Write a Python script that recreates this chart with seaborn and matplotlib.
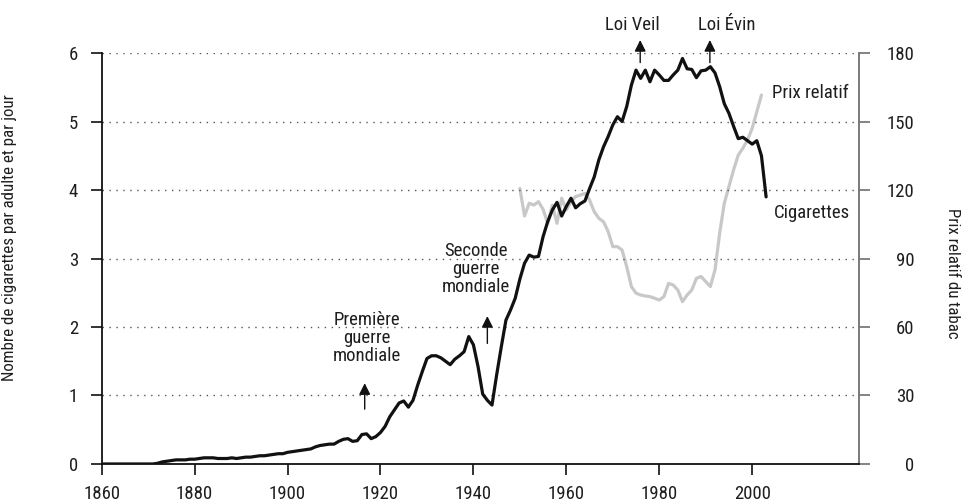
import pandas as pd
import matplotlib.pyplot as plt
import seaborn as sns

# cigarettes par adulte et par jour (left axis)
years_cig = list(range(1860, 2004))
cigarettes = [
    0, 0, 0, 0, 0, 0, 0, 0, 0, 0, 0, 0,
    0.01, 0.03, 0.04, 0.05, 0.06, 0.06, 0.06, 0.07,
    0.07, 0.08, 0.09, 0.09, 0.09, 0.08, 0.08, 0.08, 0.09, 0.08,
    0.09, 0.10, 0.10, 0.11, 0.12, 0.12, 0.13, 0.14, 0.15, 0.15,
    0.17, 0.18, 0.19, 0.20, 0.21, 0.22, 0.25, 0.27, 0.28, 0.29,
    0.29, 0.33, 0.36, 0.37, 0.33, 0.34, 0.43, 0.44, 0.37, 0.40,
    0.46, 0.55, 0.69, 0.79, 0.89, 0.92, 0.83, 0.93, 1.15, 1.35,
    1.54, 1.58, 1.58, 1.55, 1.50, 1.45, 1.53, 1.58, 1.64, 1.86,
    1.74, 1.42, 1.02, 0.93, 0.86, 1.30, 1.71, 2.10, 2.25, 2.42,
    2.70, 2.93, 3.05, 3.02, 3.03, 3.32, 3.54, 3.71, 3.82, 3.62,
    3.76, 3.88, 3.74, 3.80, 3.84, 4.02, 4.19, 4.44, 4.63, 4.78,
    4.95, 5.07, 5.00, 5.22, 5.53, 5.75, 5.63, 5.75, 5.58, 5.75,
    5.68, 5.60, 5.60, 5.68, 5.75, 5.92, 5.77, 5.76, 5.64, 5.74,
    5.75, 5.80, 5.71, 5.51, 5.26, 5.12, 4.93, 4.75, 4.77, 4.72,
    4.67, 4.72, 4.50, 3.90,
]

# prix relatif du tabac (right axis)
years_prix = list(range(1950, 2003))
prix = [
    120.7, 108.6, 114.2, 113.4, 114.9, 111.5, 105.4, 113.4, 105.4, 116.4,
    111.3, 114.9, 117.1, 117.8, 118.5, 115.6, 110.5, 107.6, 106.1, 101.8,
    95.2, 95.2, 93.7, 86.4, 77.7, 74.8, 74.0, 73.6, 73.3, 72.6,
    71.8, 73.3, 79.1, 78.4, 76.2, 71.1, 74.0, 76.2, 81.3, 82.1,
    79.9, 77.7, 85.0, 101.0, 114.2, 121.5, 128.8, 135.3, 138.3, 141.9,
    147.0, 154.3, 161.6,
]

x_ticks = [1860, 1880, 1900, 1920, 1940, 1960, 1980, 2000]
left_ticks = [0, 1, 2, 3, 4, 5, 6]
right_ticks = [0, 30, 60, 90, 120, 150, 180]

df_cig = pd.DataFrame({"annee": years_cig, "valeur": cigarettes})
df_prix = pd.DataFrame({"annee": years_prix, "valeur": prix})

sns.set_style("ticks")
plt.rcParams["font.family"] = ["Roboto Condensed", "DejaVu Sans"]

FS = 13.5
TXT = "#1e1e1e"
fig = plt.figure(figsize=(9.69, 5.04), dpi=100)
ax = fig.add_axes([0.105, 0.0794, 0.7815, 0.8154])
ax2 = ax.twinx()

sns.lineplot(data=df_prix, x="annee", y="valeur", ax=ax2, color="#c8c8c8", linewidth=2.3)
sns.lineplot(data=df_cig, x="annee", y="valeur", ax=ax, color="#111111", linewidth=2.3)

ax.set_zorder(ax2.get_zorder() + 1)
ax.patch.set_visible(False)

ax.set_xlim(1860, 2023)
ax.set_ylim(0, 6)
ax2.set_ylim(0, 180)
ax.set_xticks(x_ticks)
ax.set_yticks(left_ticks)
ax2.set_yticks(right_ticks)

for y in left_ticks[1:]:
    ax.axhline(y, color="#555555", linestyle=(0, (1, 4)), linewidth=1.0, zorder=0)

for a in (ax, ax2):
    a.spines["top"].set_visible(False)
ax.spines["right"].set_visible(False)
ax2.spines["left"].set_visible(False)
ax2.spines["bottom"].set_visible(False)
ax2.spines["right"].set_color("#707070")
ax2.spines["right"].set_linewidth(1.3)
ax.spines["left"].set_linewidth(1.3)
ax.spines["bottom"].set_linewidth(1.3)
ax.spines["left"].set_color("#111111")
ax.spines["bottom"].set_color("#111111")

ax.tick_params(axis="both", length=8, width=1.2, labelsize=FS, color="#111111", labelcolor=TXT)
ax.tick_params(axis="y", pad=9)
ax.tick_params(axis="x", pad=7)
ax2.tick_params(axis="y", length=8, width=1.2, labelsize=FS, color="#707070", labelcolor=TXT, pad=32)
for lab in ax2.get_yticklabels():
    lab.set_horizontalalignment("right")

ax.set_xlabel("")
ax.set_ylabel("Nombre de cigarettes par adulte et par jour", fontsize=12.2, color=TXT)
ax.yaxis.set_label_coords(-0.112, 0.552)
ax2.set_ylabel("Prix relatif du tabac", fontsize=12.2, rotation=-90, va="center", color=TXT)
ax2.yaxis.set_label_coords(1.124, 0.465)

# annotations
arrow = dict(arrowstyle="-|>", color="#111111", lw=1.0, mutation_scale=17)
ax.annotate("", xy=(1916.6, 1.22), xytext=(1916.6, 0.76), arrowprops=arrow)
ax.text(1917, 1.84, "Première\nguerre\nmondiale", ha="center", va="center",
        fontsize=FS, linespacing=1.0, color=TXT)
ax.annotate("", xy=(1943, 2.2), xytext=(1943, 1.72), arrowprops=arrow)
ax.text(1940.6, 2.85, "Seconde\nguerre\nmondiale", ha="center", va="center",
        fontsize=FS, linespacing=1.0, color=TXT)
ax.annotate("", xy=(1975.9, 6.23), xytext=(1975.9, 5.82), arrowprops=arrow,
            annotation_clip=False)
ax.text(1974.2, 6.41, "Loi Veil", ha="center", va="center", fontsize=FS,
        clip_on=False, color=TXT)
ax.annotate("", xy=(1990.9, 6.23), xytext=(1990.9, 5.82), arrowprops=arrow,
            annotation_clip=False)
ax.text(1994.6, 6.41, "Loi Évin", ha="center", va="center", fontsize=FS,
        clip_on=False, color=TXT)

ax.text(2004.3, 5.42, "Prix relatif", ha="left", va="center", fontsize=FS, color=TXT)
ax.text(2004.7, 3.66, "Cigarettes", ha="left", va="center", fontsize=FS, color=TXT)

plt.savefig("out.png", dpi=100)
